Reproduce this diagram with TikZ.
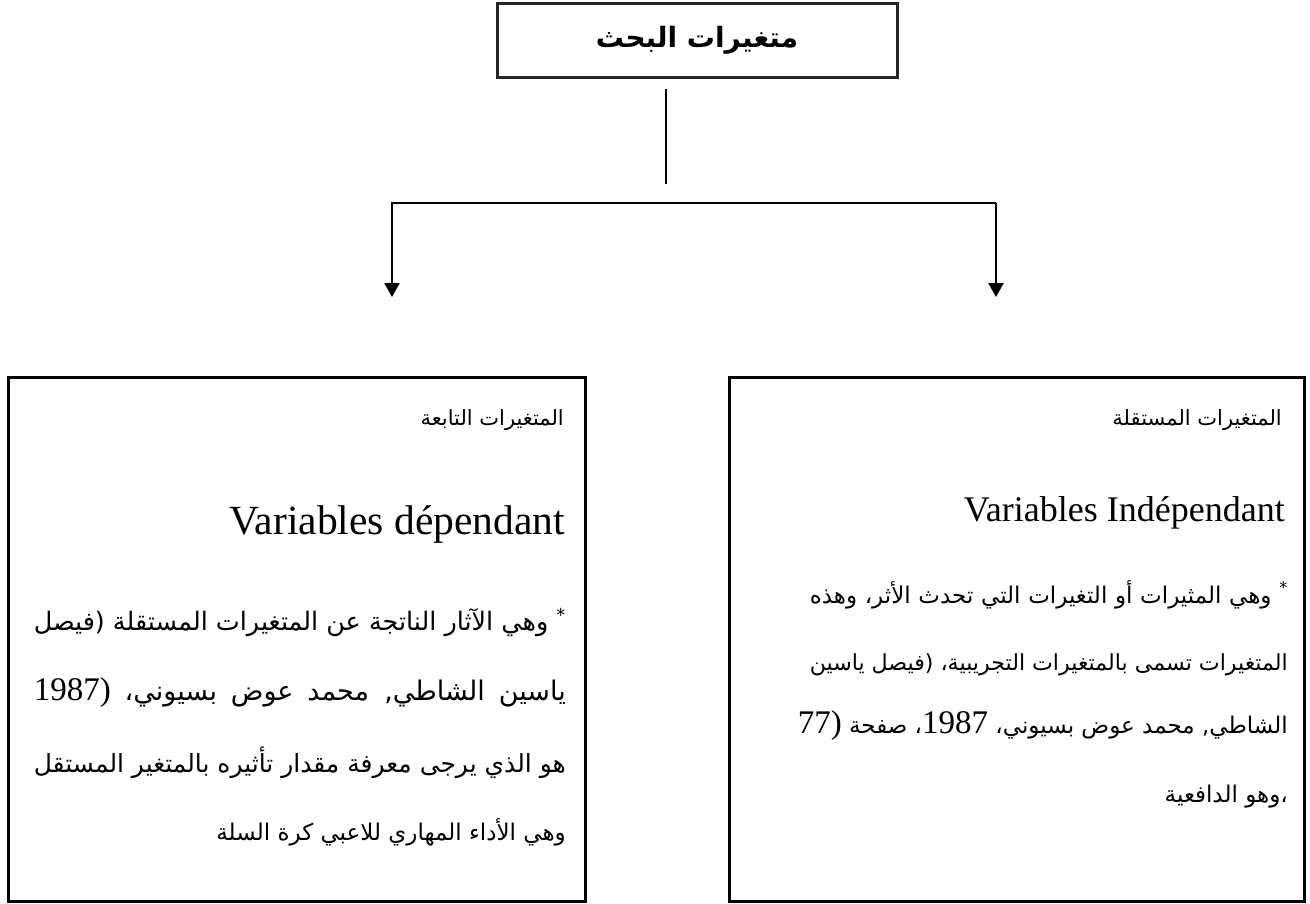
\documentclass[tikz,border=0pt]{standalone}
\usepackage{fontspec}
\usetikzlibrary{arrows.meta}
\setmainfont{Liberation Serif}
\newfontfamily\arabicfont[Script=Arabic]{DejaVu Sans}
\newfontfamily\latinfont{Liberation Serif}
\TeXXeTstate=1
\newcommand\fitline[2]{%
  \setbox0=\hbox{#2}%
  \ifdim\wd0>#1\relax\resizebox{#1}{!}{\box0}\else\hbox to #1{\unhbox0}\fi}
\newcommand\num[1]{{\latinfont\fontsize{33}{36}\selectfont #1}}
\tikzset{
  frame/.style={draw=black, line width=3pt, inner sep=0pt},
  topframe/.style={draw=black!85, line width=3pt, inner sep=0pt, minimum width=400pt, minimum height=74pt},
  arl/.style={anchor=base east, inner sep=0pt},
  body/.style={font=\arabicfont\fontsize{27}{31}\selectfont},
  bodyr/.style={font=\arabicfont\fontsize{23}{27}\selectfont},
  head/.style={font=\arabicfont\fontsize{21}{25}\selectfont},
  lat/.style={anchor=base east, inner sep=0pt},
  arr/.style={line width=2.4pt, black, -{Triangle[width=15pt,length=14pt]}},
}
\begin{document}
\begin{tikzpicture}[x=1pt,y=-1pt]
\useasboundingbox[fill=white] (0,0) rectangle (1310,903);
% boxes
\node[topframe] (top) at (697,40) {\arabicfont\bfseries\fontsize{28}{31}\selectfont\beginR متغيرات البحث\endR};
\node[frame, minimum width=577pt, minimum height=524pt] (lbox) at (296.5,639) {};
\node[frame, minimum width=575pt, minimum height=524pt] (rbox) at (1016.5,639) {};
% connectors
\coordinate (vt) at (666,89);
\coordinate (vb) at (666,184);
\coordinate (hl) at (392,203);
\coordinate (hr) at (996,203);
\coordinate (al) at (392,297);
\coordinate (ar) at (996,297);
\draw[line width=1.6pt] (vt) -- (vb);
\draw[arr] (hr) -- (hl) -- (al);
\draw[arr] (hr) -- (ar);
% left box text
\node[arl, head] (lh) at (564,425) {\beginR المتغيرات التابعة\endR};
\node[lat, font=\fontsize{41.5}{45}\selectfont] (lv) at (565,534) {Variables dépendant};
\node[arl, body] (l1) at (566,630) {\fitline{532pt}{\beginR\textsuperscript{*} وهي الآثار الناتجة عن المتغيرات المستقلة (فيصل\endR}};
\node[arl, body] (l2) at (566,700) {\fitline{532pt}{\beginR ياسين الشاطي, محمد عوض بسيوني، \num{1987)}\endR}};
\node[arl, body] (l3) at (566,772) {\fitline{532pt}{\beginR هو الذي يرجى معرفة مقدار تأثيره بالمتغير المستقل\endR}};
\node[arl, bodyr] (l4) at (566,840) {\beginR وهي الأداء المهاري للاعبي كرة السلة\endR};
% right box text
\node[arl, head] (rh) at (1282,425) {\beginR المتغيرات المستقلة\endR};
\node[lat, font=\fontsize{36}{40}\selectfont] (rv) at (1285,521) {Variables Indépendant};
\node[arl, bodyr] (r1) at (1288,603) {\fitline{478pt}{\beginR\textsuperscript{*} وهي المثيرات أو التغيرات التي تحدث الأثر، وهذه\endR}};
\node[arl, bodyr] (r2) at (1288,670) {\fitline{478pt}{\beginR المتغيرات تسمى بالمتغيرات التجريبية، (فيصل ياسين\endR}};
\node[arl, bodyr] (r3) at (1288,733) {\beginR الشاطي, محمد عوض بسيوني، \num{1987}، صفحة \num{77)}\endR};
\node[arl, bodyr] (r4) at (1288,802) {\beginR ،وهو الدافعية\endR};
\end{tikzpicture}
\end{document}
